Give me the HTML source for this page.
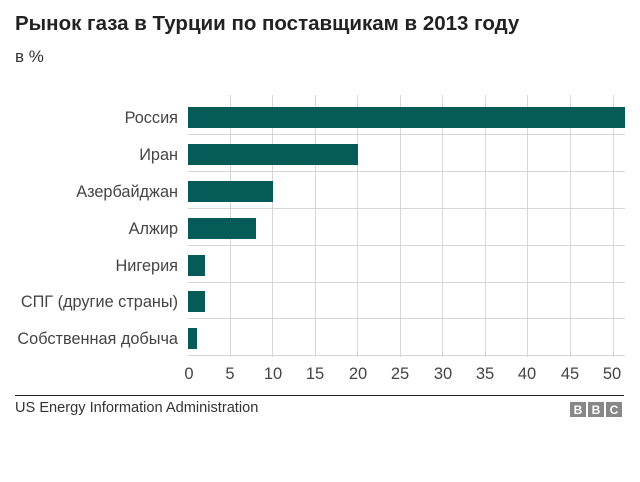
<!DOCTYPE html>
<html><head><meta charset="utf-8"><style>
body{margin:0;background:#fff;width:640px;height:477px;overflow:hidden;font-family:"Liberation Sans",Arial,sans-serif}
</style></head><body>
<svg width="640" height="477" xmlns="http://www.w3.org/2000/svg" font-family="Liberation Sans, Arial, sans-serif">
<text x="15" y="30" font-size="20.5" font-weight="bold" fill="#222">Рынок газа в Турции по поставщикам в 2013 году</text>
<text x="15" y="62" font-size="17" fill="#333">в %</text>
<g stroke="#d6d6d6" stroke-width="1">
<line x1="230.5" y1="95" x2="230.5" y2="357"/><line x1="272.5" y1="95" x2="272.5" y2="357"/>
<line x1="315.5" y1="95" x2="315.5" y2="357"/><line x1="357.5" y1="95" x2="357.5" y2="357"/>
<line x1="400.5" y1="95" x2="400.5" y2="357"/><line x1="442.5" y1="95" x2="442.5" y2="357"/>
<line x1="485.5" y1="95" x2="485.5" y2="357"/><line x1="527.5" y1="95" x2="527.5" y2="357"/>
<line x1="570.5" y1="95" x2="570.5" y2="357"/><line x1="613.5" y1="95" x2="613.5" y2="357"/>
<line x1="188" y1="134.5" x2="625" y2="134.5"/><line x1="188" y1="171.5" x2="625" y2="171.5"/>
<line x1="188" y1="208.5" x2="625" y2="208.5"/><line x1="188" y1="245.5" x2="625" y2="245.5"/>
<line x1="188" y1="282.5" x2="625" y2="282.5"/><line x1="188" y1="318.5" x2="625" y2="318.5"/>
<line x1="188" y1="355.5" x2="625" y2="355.5"/>
</g>
<g fill="#065a58">
<rect x="188" y="107" width="437" height="21"/>
<rect x="188" y="144" width="170" height="21"/>
<rect x="188" y="181" width="85" height="21"/>
<rect x="188" y="218" width="68" height="21"/>
<rect x="188" y="255" width="17" height="21"/>
<rect x="188" y="291" width="17" height="21"/>
<rect x="188" y="328" width="9" height="21"/>
</g>
<g font-size="16.3" fill="#444" text-anchor="end">
<text x="178" y="123">Россия</text>
<text x="178" y="160">Иран</text>
<text x="178" y="197">Азербайджан</text>
<text x="178" y="234">Алжир</text>
<text x="178" y="271">Нигерия</text>
<text x="178" y="307">СПГ (другие страны)</text>
<text x="178" y="344">Собственная добыча</text>
</g>
<g font-size="16.5" fill="#444" text-anchor="middle">
<text x="189" y="379">0</text><text x="230" y="379">5</text><text x="273" y="379">10</text>
<text x="315" y="379">15</text><text x="358" y="379">20</text><text x="400" y="379">25</text>
<text x="443" y="379">30</text><text x="485" y="379">35</text><text x="527" y="379">40</text>
<text x="570" y="379">45</text><text x="612" y="379">50</text>
</g>
<line x1="15" y1="395.5" x2="624" y2="395.5" stroke="#222" stroke-width="1"/>
<text x="15" y="412" font-size="14.6" fill="#333">US Energy Information Administration</text>
<g fill="#888"><rect x="570" y="402" width="16" height="15"/><rect x="588" y="402" width="16" height="15"/><rect x="606" y="402" width="16" height="15"/></g>
<g fill="#fff" font-size="12" font-weight="bold" text-anchor="middle"><text x="578" y="414">B</text><text x="596" y="414">B</text><text x="614" y="414">C</text></g>
</svg>
</body></html>
